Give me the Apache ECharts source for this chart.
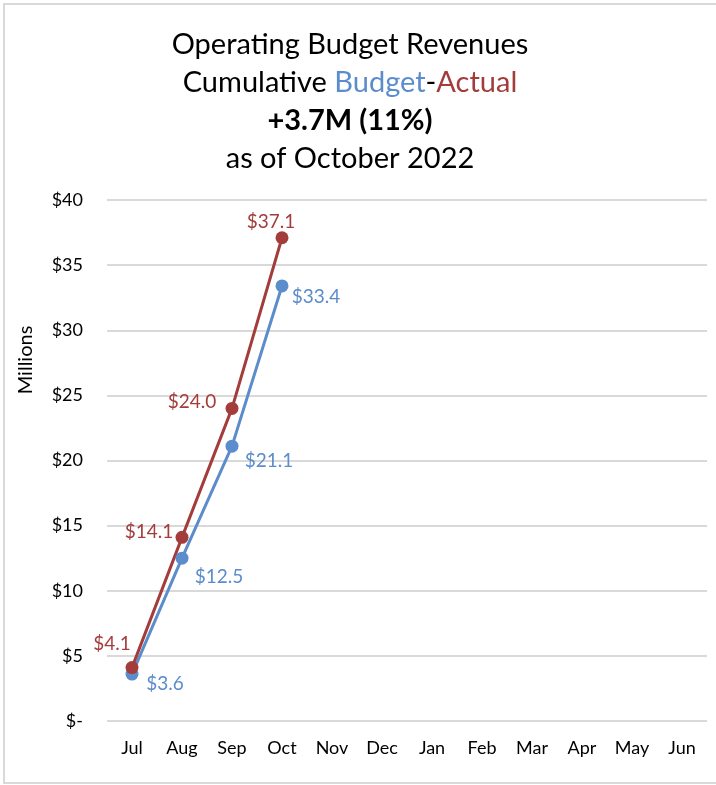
<!DOCTYPE html>
<html><head><meta charset="utf-8">
<script src="https://cdn.jsdelivr.net/npm/echarts@6/dist/echarts.min.js"></script>
<style>html,body{margin:0;padding:0;background:#fff}#c{width:716px;height:785px}</style>
</head><body><div id="c"></div>
<script>
const months = ['Jul','Aug','Sep','Oct','Nov','Dec','Jan','Feb','Mar','Apr','May','Jun'];
const actual = [4.1, 14.1, 24.0, 37.1];
const budget = [3.6, 12.5, 21.1, 33.4];
const yTicks = [0, 5, 10, 15, 20, 25, 30, 35, 40];

const FONT = 'Lato';
const RED = '#A33D3B';
const BLUE = '#5B8CCB';

const actualLabelOffset = [[-20, -24], [-33, -5], [-40, -7], [-11, -16]];
const budgetLabelOffset = [[33, 10], [37, 19], [37, 15], [34, 11]];

const chart = echarts.init(document.getElementById('c'));
chart.setOption({
  animation: false,
  textStyle: {fontFamily: FONT},
  graphic: [
    {type: 'rect', shape: {x: 4, y: 4, width: 720, height: 779}, style: {fill: 'none', stroke: '#D9D9D9', lineWidth: 2}, silent: true},
    {type: 'text', x: 26, y: 360, rotation: Math.PI / 2, silent: true,
      style: {text: 'Millions', fontFamily: FONT, fontSize: 20, fill: '#000', align: 'center', verticalAlign: 'middle'}}
  ],
  title: {
    left: 345, top: 21, textAlign: 'center',
    text: '{n|Operating Budget Revenues}\n{n|Cumulative }{b|Budget}{n|-}{r|Actual}\n{k|+3.7M (11%)}\n{n|as of October 2022}',
    textStyle: {
      fontFamily: FONT, fontSize: 29, lineHeight: 38, color: '#000', fontWeight: 'normal',
      rich: {
        n: {fontFamily: FONT, fontSize: 29, lineHeight: 38, color: '#000', fontWeight: 'normal'},
        b: {fontFamily: FONT, fontSize: 29, lineHeight: 38, color: BLUE, fontWeight: 'normal'},
        r: {fontFamily: FONT, fontSize: 29, lineHeight: 38, color: RED, fontWeight: 'normal'},
        k: {fontFamily: FONT, fontSize: 29, lineHeight: 38, color: '#000', fontWeight: 'bold'}
      }
    }
  },
  grid: {left: 107, right: 9, top: 200, bottom: 64},
  xAxis: {
    type: 'category', data: months, boundaryGap: true,
    axisLine: {show: false}, axisTick: {show: false},
    axisLabel: {color: '#000', fontSize: 18, margin: 18, fontFamily: FONT}
  },
  yAxis: {
    type: 'value', min: yTicks[0], max: yTicks[yTicks.length - 1], interval: 5,
    axisLine: {show: false}, axisTick: {show: false},
    axisLabel: {color: '#000', fontSize: 18, margin: 24, fontFamily: FONT,
      formatter: v => v === 0 ? '$-' : '$' + v},
    splitLine: {lineStyle: {color: '#D9D9D9', width: 2}}
  },
  series: [
    {
      name: 'Budget', type: 'line',
      data: budget.map((v, i) => ({value: v, label: {offset: budgetLabelOffset[i]}})),
      symbol: 'circle', symbolSize: 13,
      lineStyle: {color: BLUE, width: 3}, itemStyle: {color: BLUE},
      label: {show: true, position: 'inside', color: BLUE, fontSize: 19, fontFamily: FONT,
        formatter: p => '$' + p.value.toFixed(1)}
    },
    {
      name: 'Actual', type: 'line',
      data: actual.map((v, i) => ({value: v, label: {offset: actualLabelOffset[i]}})),
      symbol: 'circle', symbolSize: 13,
      lineStyle: {color: RED, width: 3}, itemStyle: {color: RED},
      label: {show: true, position: 'inside', color: RED, fontSize: 19, fontFamily: FONT,
        formatter: p => '$' + p.value.toFixed(1)}
    }
  ]
});
</script></body></html>
